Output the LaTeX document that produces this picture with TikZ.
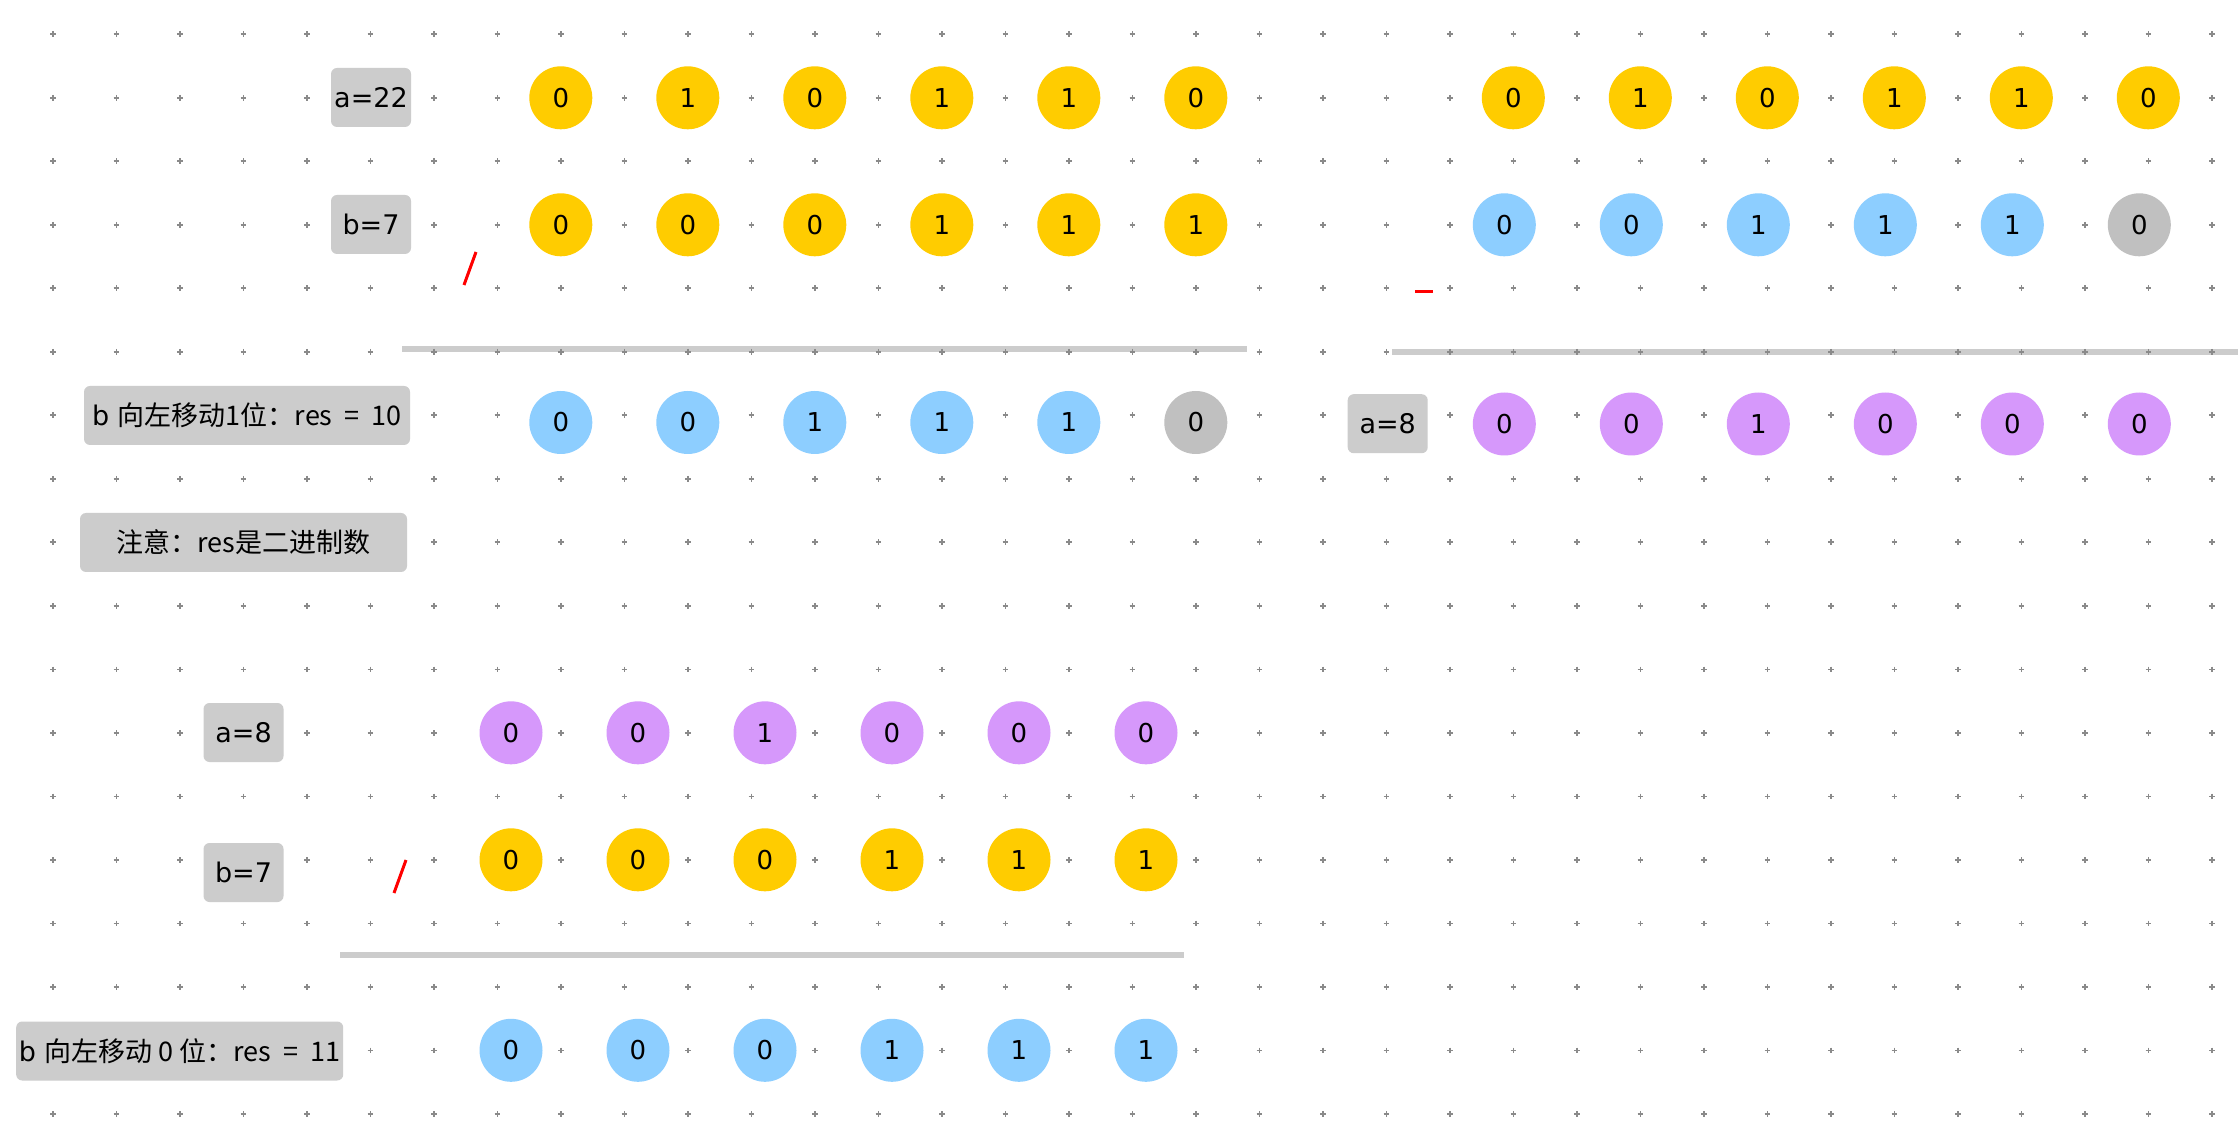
\documentclass[tikz,border=0pt]{standalone}
\usepackage{fontspec}
\setmainfont{DejaVu Sans}
\newfontfamily\cjk{Noto Sans CJK SC}
\definecolor{cyel}{HTML}{FFCC00}
\definecolor{cblue}{HTML}{8DCEFF}
\definecolor{cpurp}{HTML}{D698FB}
\definecolor{cgrayc}{HTML}{C0C0C0}
\definecolor{cbox}{HTML}{CCCCCC}
\definecolor{cline}{HTML}{CCCCCC}
\definecolor{cdot}{HTML}{8A8A8A}
\definecolor{cred}{HTML}{FF0000}
\newcommand{\wsp}{\hspace{0.45em}}
\begin{document}
\begin{tikzpicture}[x=0.5pt,y=-0.5pt,
  bit/.style={circle, minimum size=31.5pt, inner sep=0pt, font=\fontsize{13}{15}\selectfont},
  lab/.style={fill=cbox, rounded corners=3pt, minimum height=29.5pt, inner sep=0pt, font=\fontsize{13.5}{16}\selectfont},
  sepline/.style={draw=cline, line width=3pt},
  redmark/.style={draw=cred, line width=1.5pt},
  gridplus/.style={draw=cdot, line width=0.8pt}]
\useasboundingbox (0,0) rectangle (2238,1138);
\fill[white] (0,0) rectangle (2238,1138);
% separator lines
\coordinate (l1a) at (402,349); \coordinate (l1b) at (1247,349);
\coordinate (l2a) at (1392,352); \coordinate (l2b) at (2238,352);
\coordinate (l3a) at (340,955); \coordinate (l3b) at (1184,955);
\draw[sepline] (l1a) -- (l1b);
\draw[sepline] (l2a) -- (l2b);
\draw[sepline] (l3a) -- (l3b);
% dot grid
\foreach \c in {0,...,34} {
  \foreach \r in {0,...,17} {
    \draw[gridplus] ({52.8+63.5*\c-2.8},{34.3+63.5*\r}) -- ++(5.6,0);
    \draw[gridplus] ({52.8+63.5*\c},{34.3+63.5*\r-2.8}) -- ++(0,5.6);
  }
}
% red marks
\coordinate (r1a) at (464,285); \coordinate (r1b) at (476,252);
\coordinate (r2a) at (1415,292); \coordinate (r2b) at (1433,292);
\coordinate (r3a) at (394,893); \coordinate (r3b) at (406,860);
\draw[redmark] (r1a) -- (r1b);
\draw[redmark] (r2a) -- (r2b);
\draw[redmark] (r3a) -- (r3b);
% top-left block
\node[lab, minimum width=40pt] (la22) at (371,97.5) {a=22};
\node[lab, minimum width=40pt] (lb7) at (371,224.5) {b=7};
\node[lab, minimum width=163pt] (lres1) at (247,415.5) {b \cjk{向左移动}1\cjk{位：}res\wsp=\wsp10};
\node[lab, minimum width=163.5pt] (lnote) at (243.5,542.5) {\cjk{注意：}res\cjk{是二进制数}};
\foreach \v [count=\i from 0] in {0,1,0,1,1,0}
  \node[bit, fill=cyel] (ta\i) at ({560.8+127*\i},97.8) {\v};
\foreach \v [count=\i from 0] in {0,0,0,1,1,1}
  \node[bit, fill=cyel] (tb\i) at ({560.8+127*\i},224.8) {\v};
\foreach \v [count=\i from 0] in {0,0,1,1,1}
  \node[bit, fill=cblue] (tr\i) at ({560.8+127*\i},422.5) {\v};
\node[bit, fill=cgrayc] (tr5) at (1195.8,422.5) {0};
% top-right block
\foreach \v [count=\i from 0] in {0,1,0,1,1,0}
  \node[bit, fill=cyel] (ra\i) at ({1513.3+127*\i},97.8) {\v};
\foreach \v [count=\i from 0] in {0,0,1,1,1}
  \node[bit, fill=cblue] (rb\i) at ({1504.3+127*\i},224.8) {\v};
\node[bit, fill=cgrayc] (rb5) at (2139.3,224.8) {0};
\node[lab, minimum width=40pt] (ra8) at (1387.7,423.7) {a=8};
\foreach \v [count=\i from 0] in {0,0,1,0,0,0}
  \node[bit, fill=cpurp] (rr\i) at ({1504.3+127*\i},424) {\v};
% bottom block
\node[lab, minimum width=40pt] (ba8) at (243.5,732.5) {a=8};
\node[lab, minimum width=40pt] (bb7) at (243.5,872.5) {b=7};
\node[lab, minimum width=163.5pt] (bres) at (179.7,1051) {b \cjk{向左移动} 0 \cjk{位：}res\wsp=\wsp11};
\foreach \v [count=\i from 0] in {0,0,1,0,0,0}
  \node[bit, fill=cpurp] (ba\i) at ({511+127*\i},732.8) {\v};
\foreach \v [count=\i from 0] in {0,0,0,1,1,1}
  \node[bit, fill=cyel] (bb\i) at ({511+127*\i},859.8) {\v};
\foreach \v [count=\i from 0] in {0,0,0,1,1,1}
  \node[bit, fill=cblue] (br\i) at ({511+127*\i},1050.3) {\v};
\end{tikzpicture}
\end{document}
